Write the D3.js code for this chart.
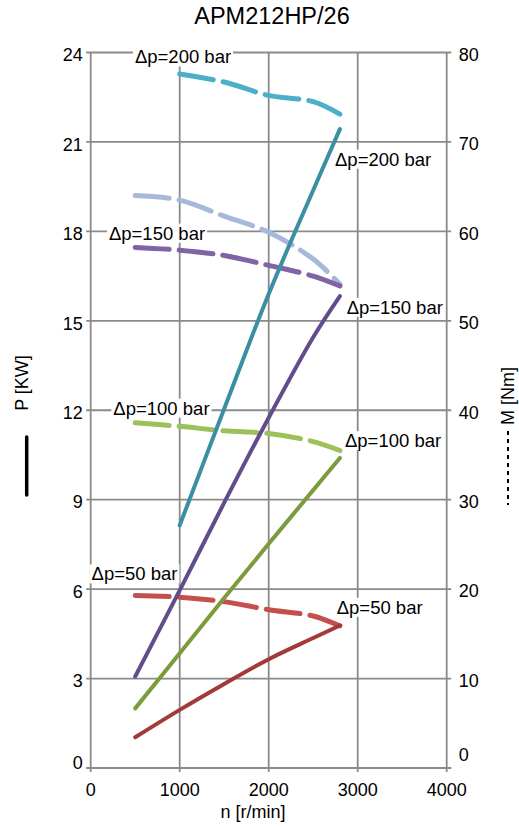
<!DOCTYPE html>
<html><head><meta charset="utf-8">
<script src="https://cdn.jsdelivr.net/npm/d3@7"></script>
<style>body{margin:0;background:#fff}svg{display:block}text{font-family:"Liberation Sans",Arial,sans-serif;fill:#000}</style>
</head><body><svg id="c" width="519" height="827"></svg>
<script>
// ---- data ----
const title = "APM212HP/26";
const speeds = [500, 1000, 1500, 2000, 2500, 2800];          // n [r/min]
const power50  = [1.03, 1.95, 2.82, 3.65, 4.36, 4.78];        // P [kW]
const power100 = [2.0, 3.85, 5.7, 7.52, 9.32, 10.4];
const power150 = [3.07, 5.96, 8.9, 11.75, 14.45, 15.83];
const power200 = [null, 8.14, 12.05, 15.9, 19.38, 21.43];
const torque50  = [19.3, 19.1, 18.6, 17.7, 17.0, 15.9];       // M [Nm]
const torque100 = [38.6, 38.2, 37.7, 37.4, 36.5, 35.5];
const torque150 = [58.2, 57.9, 57.3, 56.2, 55.0, 53.9];
const torqueExtra = [64.0, 63.5, 61.7, 59.9, 56.9, 54.1];
const torque200 = [null, 77.6, 76.7, 75.2, 74.5, 73.1];
const xTicks = [0, 1000, 2000, 3000, 4000];
const pTicks = [0, 3, 6, 9, 12, 15, 18, 21, 24];
const mTicks = [0, 10, 20, 30, 40, 50, 60, 70, 80];
const seriesLabels = ["Δp=50 bar", "Δp=100 bar", "Δp=150 bar", "Δp=200 bar"];

// ---- chart ----
const svg = d3.select("#c");
const L = 90.7, R = 446.7, T = 52.5, B = 768;
const x = d3.scaleLinear([0, 4000], [L, R]);
const yP = d3.scaleLinear([0, 24], [B, T]);
const yM = d3.scaleLinear([0, 80], [B, T]);
const gridColor = "#8a8a8a";

svg.append("text").attr("x", 272).attr("y", 24).attr("text-anchor", "middle")
  .style("font-size", "23.5px").text(title);

// grid
const g = svg.append("g");
g.selectAll(".vg").data(xTicks).join("line")
  .attr("x1", d => x(d)).attr("x2", d => x(d)).attr("y1", T).attr("y2", B + 4)
  .attr("stroke", gridColor).attr("stroke-width", 1.8);
g.selectAll(".hg").data(pTicks).join("line")
  .attr("x1", L - 4.5).attr("x2", R + 4.5).attr("y1", d => yP(d)).attr("y2", d => yP(d))
  .attr("stroke", gridColor).attr("stroke-width", 1.8);

// axes labels
const fs = "18px";
svg.append("g").selectAll("text").data(pTicks).join("text")
  .attr("x", L - 8).attr("y", d => yP(d) + (d === 0 ? -5 : 2.5)).attr("dy", "0.35em")
  .attr("text-anchor", "end").style("font-size", fs).text(d => d);
svg.append("g").selectAll("text").data(mTicks).join("text")
  .attr("x", R + 12).attr("y", d => yM(d) + (d === 0 ? -13 : 2)).attr("dy", "0.35em")
  .attr("text-anchor", "start").style("font-size", fs).text(d => d);
svg.append("g").selectAll("text").data(xTicks).join("text")
  .attr("x", d => x(d)).attr("y", 796).attr("text-anchor", "middle")
  .style("font-size", fs).text(d => d);
svg.append("text").attr("x", 253).attr("y", 818).attr("text-anchor", "middle")
  .style("font-size", fs).text("n [r/min]");
svg.append("text").attr("transform", "translate(28,383) rotate(-90)").attr("text-anchor", "middle")
  .style("font-size", fs).text("P [KW]");
svg.append("line").attr("x1", 26.7).attr("x2", 26.7).attr("y1", 437).attr("y2", 495)
  .attr("stroke", "#000").attr("stroke-width", 3.5).attr("stroke-linecap", "round");
svg.append("text").attr("transform", "translate(514,396) rotate(-90)").attr("text-anchor", "middle")
  .style("font-size", fs).text("M [Nm]");
svg.append("line").attr("x1", 508).attr("x2", 508).attr("y1", 431).attr("y2", 505)
  .attr("stroke", "#000").attr("stroke-width", 2).attr("stroke-dasharray", "4 4");

// series
const curve = d3.curveCatmullRom.alpha(0.5);
const lineP = d3.line().defined(d => d[1] != null).x(d => x(d[0])).y(d => yP(d[1])).curve(curve);
const lineM = d3.line().defined(d => d[1] != null).x(d => x(d[0])).y(d => yM(d[1])).curve(curve);
const zip = arr => speeds.map((s, i) => [s, arr[i]]);

const torques = [
  {v: torqueExtra, c: "#A7B8DB"},
  {v: torque50, c: "#C4504D"},
  {v: torque100, c: "#9CC05A"},
  {v: torque150, c: "#8064A6"},
  {v: torque200, c: "#4BAFC9"}
];
const powers = [
  {v: power50, c: "#A33A3A"},
  {v: power100, c: "#7C9B3D"},
  {v: power150, c: "#634C8C"},
  {v: power200, c: "#3A8FA3"}
];
svg.append("g").selectAll("path").data(torques).join("path")
  .attr("d", d => lineM(zip(d.v))).attr("fill", "none").attr("stroke", d => d.c)
  .attr("stroke-width", 5).attr("stroke-linecap", "round").attr("stroke-dasharray", "34 10");
svg.append("g").selectAll("path").data(powers).join("path")
  .attr("d", d => lineP(zip(d.v))).attr("fill", "none").attr("stroke", d => d.c)
  .attr("stroke-width", 4).attr("stroke-linecap", "round");

// labels (positions in data units)
const labelPos = [
  // [label index, n, P-value, anchor]
  [3, 1037, 23.85, "middle"], [3, 2745, 20.42, "start"],
  [2, 745, 17.94, "middle"], [2, 2876, 15.45, "start"],
  [1, 795, 12.07, "middle"], [1, 2857, 10.98, "start"],
  [0, 492, 6.51, "middle"], [0, 2764, 5.39, "start"]
];
const lg = svg.append("g");
labelPos.forEach(([i, n, p, a]) => {
  const t = lg.append("text").attr("x", x(n)).attr("y", yP(p)).attr("dy", "0.35em")
    .attr("text-anchor", a).style("font-size", "18.5px").text(seriesLabels[i]);
  const bb = t.node().getBBox();
  lg.insert("rect", () => t.node()).attr("x", bb.x - 2).attr("y", bb.y + 1)
    .attr("width", bb.width + 4).attr("height", bb.height - 2).attr("fill", "#fff");
});
</script></body></html>
